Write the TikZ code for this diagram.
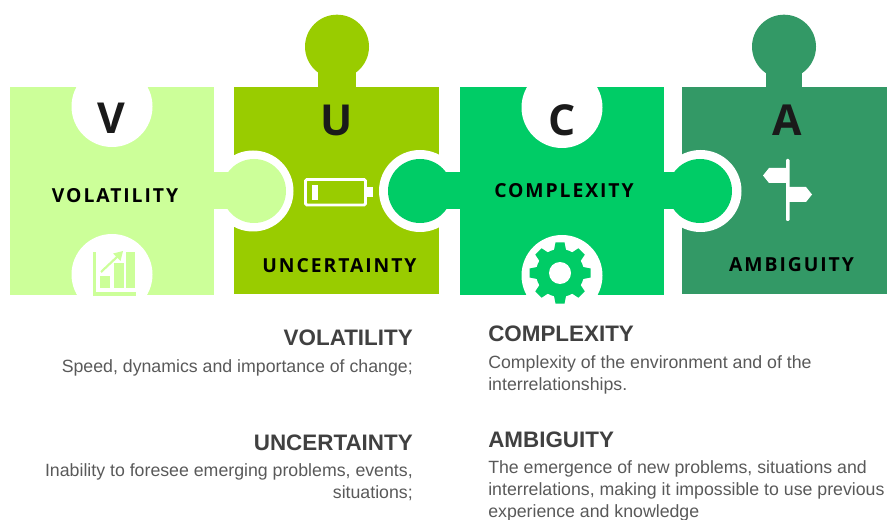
\documentclass[tikz,border=0pt]{standalone}
\usepackage{fontspec}
\setmainfont{Liberation Sans}
\newfontfamily\puzzlefont[LetterSpace=10]{Open Sans}
\newfontfamily\letterfont{Open Sans}
\definecolor{volgreen}{HTML}{CCFF99}
\definecolor{uncgreen}{HTML}{99CC00}
\definecolor{comgreen}{HTML}{00CC66}
\definecolor{ambgreen}{HTML}{339966}
\definecolor{headgray}{HTML}{404040}
\definecolor{bodygray}{HTML}{595959}
\definecolor{inkblack}{HTML}{1A1A1A}
\begin{document}
\begin{tikzpicture}[
        x=0.75pt,y=-0.75pt,
        piecelabel/.style={font=\puzzlefont\bfseries\fontsize{14.5}{17}\selectfont,text=black,inner sep=0pt},
        bigletter/.style={font=\letterfont\bfseries\fontsize{32}{36}\selectfont,text=inkblack,inner sep=0pt},
        heading/.style={font=\bfseries\fontsize{16.8}{20}\selectfont,text=headgray,inner sep=0pt},
        bodytext/.style={font=\fontsize{13.3}{16.5}\selectfont,text=bodygray,inner sep=0pt},
        ]
        \useasboundingbox (0,0) rectangle (888,520);

        \fill[uncgreen] (234.3,87.3) rectangle (439.3,294);
        \fill[uncgreen] (318.3,70) rectangle (355.7,88);
        \fill[uncgreen] (337,46.7) circle [radius=32];
        \fill[ambgreen] (682,87.3) rectangle (887,294);
        \fill[ambgreen] (765.7,70) rectangle (802.3,88);
        \fill[ambgreen] (784,46.7) circle [radius=32];
        \fill[white] (253,191) circle [radius=40.5];
        \fill[white] (420,191) circle [radius=41];
        \fill[white] (700.5,191) circle [radius=41];

        \fill[volgreen] (9.7,87.3) rectangle (213.7,295);
        \fill[volgreen] (213,172) rectangle (230,209.5);
        \fill[volgreen] (254,191) circle [radius=32];
        \fill[white] (112,106.5) circle [radius=40.5];
        \fill[white] (112,274.5) circle [radius=40.5];

        \fill[comgreen] (460,87.3) rectangle (664,295);
        \fill[comgreen] (398,172) rectangle (461,209.5);
        \fill[comgreen] (420,191) circle [radius=32];
        \fill[comgreen] (663,172) rectangle (680,209.5);
        \fill[comgreen] (700,191) circle [radius=32];
        \fill[white] (562,107.5) circle [radius=40.5];
        \fill[white] (562,275.5) circle [radius=40.5];

        % chart
        \fill[white] (60,295) rectangle (160,310);
        \fill[volgreen] (93,252) rectangle (96,296);
        \fill[volgreen] (93,291.5) rectangle (136,296);
        \fill[volgreen] (100,276) rectangle (110,288);
        \fill[volgreen] (114,263) rectangle (124,288);
        \fill[volgreen] (126,252) rectangle (135,288);
        \draw[volgreen,line width=1.6pt] (101,272) -- (118,256);
        \fill[volgreen] (123,251) -- (120.5,261) -- (113,253.5) -- cycle;

        % battery
        \draw[white,line width=2.2pt,rounded corners=1pt] (305.5,179.5) rectangle (365.5,205);
        \fill[white] (367,187) rectangle (373,197);
        \fill[white] (312,185) rectangle (318,200);

        % gear
        \fill[comgreen] (560,273) circle [radius=24];
        \foreach \angle in {0,45,...,315}
          \fill[comgreen,rotate around={\angle:(560,273)}] (553,255) -- (555.5,242.5) -- (564.5,242.5) -- (567,255) -- cycle;
        \fill[white] (560,273) circle [radius=11];

        % signpost
        \fill[white,rounded corners=0.8pt] (786,159) rectangle (789.5,221);
        \fill[white] (786,168) -- (769,168) -- (763,175.5) -- (769,183) -- (786,183) -- cycle;
        \fill[white] (789,187) -- (806,187) -- (812,194.5) -- (806,202) -- (789,202) -- cycle;

        \node[bigletter] (v_letter) at (111,118) {V};
        \node[bigletter] (u_letter) at (337,120) {U};
        \node[bigletter] (c_letter) at (562,120) {C};
        \node[bigletter] (a_letter) at (787,120) {A};

        \node[piecelabel] (v_label) at (115,196) {VOLATILITY};
        \node[piecelabel] (u_label) at (339.5,265.5) {UNCERTAINTY};
        \node[piecelabel] (c_label) at (564,190.5) {COMPLEXITY};
        \node[piecelabel] (a_label) at (791.5,265) {AMBIGUITY};

        \node[heading,anchor=base east] (v_head) at (413,345) {VOLATILITY};
        \node[bodytext,anchor=base east] (v_body) at (413,372) {Speed, dynamics and importance of change;};
        \node[heading,anchor=base east] (u_head) at (413,450) {UNCERTAINTY};
        \node[bodytext,anchor=north east,align=right] (u_body) at (413,463.5) {Inability to foresee emerging problems, events,\\situations;};

        \node[heading,anchor=base west] (c_head) at (488,341) {COMPLEXITY};
        \node[bodytext,anchor=north west,align=left] (c_body) at (488,355.5) {Complexity of the environment and of the\\interrelationships.};
        \node[heading,anchor=base west] (a_head) at (488,447) {AMBIGUITY};
        \node[bodytext,anchor=north west,align=left] (a_body) at (488,460) {The emergence of new problems, situations and\\interrelations, making it impossible to use previous\\experience and knowledge};
\end{tikzpicture}
\end{document}
